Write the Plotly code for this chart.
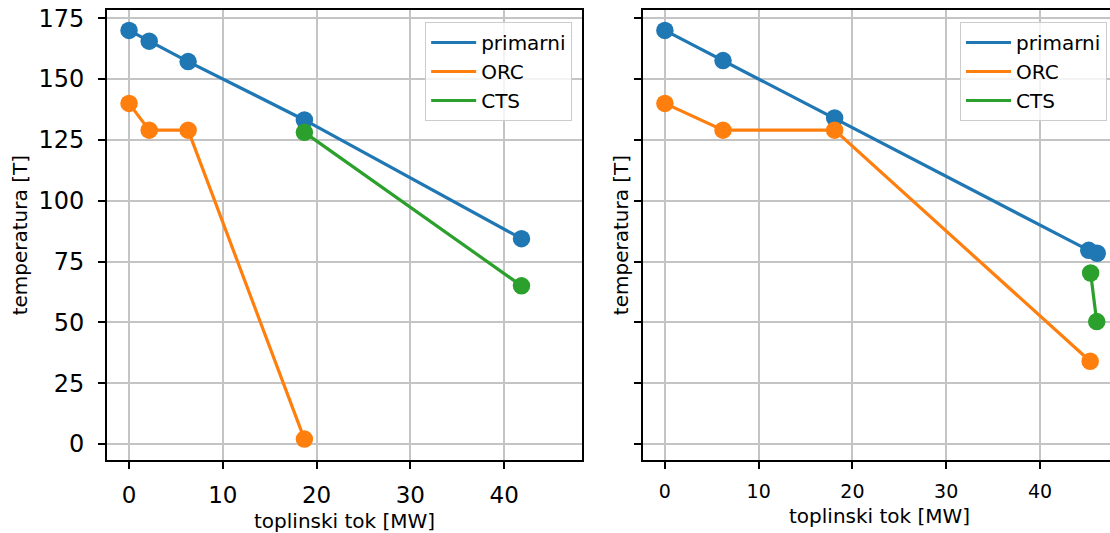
import plotly.graph_objects as go

# ---- data ----
series_names = ["primarni", "ORC", "CTS"]
colors = ["#1f77b4", "#ff7f0e", "#2ca02c"]

prim_x_left = [0, 2.15, 6.3, 18.7, 41.85]
prim_y_left = [170, 165.6, 157.2, 133.2, 84.4]
orc_x_left = [0, 2.15, 6.3, 18.7]
orc_y_left = [140, 129, 129, 2]
cts_x_left = [18.7, 41.85]
cts_y_left = [128.1, 65]

prim_x_right = [0, 6.2, 18.1, 45.2, 46.1]
prim_y_right = [170, 157.6, 134, 79.6, 78.4]
orc_x_right = [0, 6.2, 18.1, 45.35]
orc_y_right = [140, 129, 129, 34]
cts_x_right = [45.4, 46.05]
cts_y_right = [70.3, 50.3]

x_title = "toplinski tok [MW]"
y_title = "temperatura [T]"
y_ticks = [0, 25, 50, 75, 100, 125, 150, 175]
x_ticks = [0, 10, 20, 30, 40]

# ---- geometry (pixels of a 1110x533 canvas) ----
W, H = 1110, 533
ML, MT, MB, MR = 106.7, 10, 73, 0
PW = W - ML - MR
PH = H - MT - MB


def px_x(p):
    return (p - ML) / PW


def px_y(p):
    return (H - MB - p) / PH


FONT = "DejaVu Sans"
LW = 3.2
MS = 17.5
fig = go.Figure()

left = [(prim_x_left, prim_y_left), (orc_x_left, orc_y_left), (cts_x_left, cts_y_left)]
right = [(prim_x_right, prim_y_right), (orc_x_right, orc_y_right), (cts_x_right, cts_y_right)]

for panel, (data, xa, ya, lg) in enumerate([(left, "x", "y", "legend"), (right, "x2", "y2", "legend2")]):
    for (xs, ys), name, c in zip(data, series_names, colors):
        fig.add_trace(go.Scatter(x=xs, y=ys, name=name, mode="lines+markers",
                                 line=dict(color=c, width=LW),
                                 marker=dict(color=c, size=MS, line=dict(width=0)),
                                 xaxis=xa, yaxis=ya, showlegend=False))
    # legend entries drawn as plain line samples (as in the reference)
    for name, c in zip(series_names, colors):
        fig.add_trace(go.Scatter(x=[None], y=[None], name=name, mode="lines",
                                 line=dict(color=c, width=LW),
                                 xaxis=xa, yaxis=ya, legend=lg, showlegend=True))

xrange_full = [-2.35, 48.35]
left_dom = [0, px_x(582.3)]
right_dom = [px_x(642.7), 1]
left_w = 582.3 - ML
right_w = W - 642.7
x2_max = xrange_full[0] + (xrange_full[1] - xrange_full[0]) * right_w / left_w

common_axis = dict(showline=True, linecolor="black", linewidth=2,
                   ticks="outside", ticklen=7, tickwidth=2, tickcolor="black",
                   showgrid=True, gridcolor="#c4c4c4", gridwidth=1.5,
                   zeroline=False, automargin=False)

legend_common = dict(xanchor="right", yanchor="top",
                     bgcolor="rgba(255,255,255,0.8)", bordercolor="#cccccc", borderwidth=1,
                     font=dict(size=20, family=FONT), tracegroupgap=0, itemwidth=45)

fig.update_layout(
    width=W, height=H,
    margin=dict(l=ML, r=MR, t=MT, b=MB, pad=0),
    paper_bgcolor="white", plot_bgcolor="white",
    font=dict(family=FONT, color="black"),
    xaxis=dict(domain=left_dom, range=xrange_full, tickvals=x_ticks, mirror=True,
               tickfont=dict(size=23), ticklabelstandoff=6, anchor="y", **common_axis),
    yaxis=dict(domain=[0, 1], range=[-6.6, 178.4], tickvals=y_ticks, mirror=True,
               tickfont=dict(size=24), ticklabelstandoff=9, anchor="x", **common_axis),
    xaxis2=dict(domain=right_dom, range=[xrange_full[0], x2_max], tickvals=x_ticks, mirror=True,
                tickfont=dict(size=19), ticklabelstandoff=6, anchor="y2", **common_axis),
    yaxis2=dict(domain=[0, 1], range=[-6.6, 178.4], tickvals=y_ticks, mirror=False,
                showticklabels=False, anchor="x2", **common_axis),
    legend=dict(x=px_x(572), y=px_y(22), **legend_common),
    legend2=dict(x=px_x(1107), y=px_y(22), **legend_common),
    showlegend=True,
)

ann = dict(xref="paper", yref="paper", showarrow=False, font=dict(size=20, family=FONT, color="black"))
fig.add_annotation(text=x_title, x=px_x(344.5), y=px_y(521), xanchor="center", yanchor="middle", **ann)
fig.add_annotation(text=x_title, x=px_x(879), y=px_y(516), xanchor="center", yanchor="middle", **ann)
fig.add_annotation(text=y_title, x=px_x(20), y=px_y(235), textangle=-90, xanchor="center", yanchor="middle", **ann)
fig.add_annotation(text=y_title, x=px_x(621), y=px_y(235), textangle=-90, xanchor="center", yanchor="middle", **ann)

fig.write_html("out.html", config={"displayModeBar": False},
               post_script="document.body.style.margin='0';document.body.style.overflow='hidden';")
